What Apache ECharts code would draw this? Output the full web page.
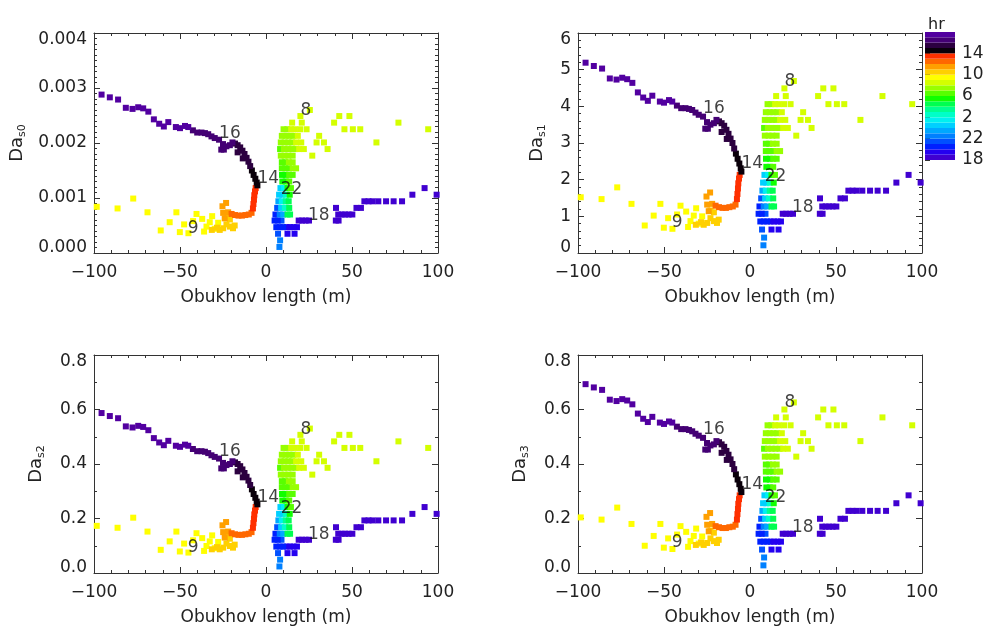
<!DOCTYPE html>
<html><head><meta charset="utf-8">
<script src="https://cdn.jsdelivr.net/npm/echarts@6/dist/echarts.min.js"></script>
<style>html,body{margin:0;padding:0;background:#fff}#c{width:990px;height:627px}</style>
</head><body><div id="c"></div>
<script>
// ---------------- DATA ----------------
const obukhovLength = [
 99.2, 92.2, 85.1, 79.1, 74.2, 69.8, 65.3, 62.0, 59.6, 57.2,
 55.2, 52.6, 50.2, 48.0, 46.0, 44.0, 42.0, 40.7, 42.2, 40.6,
 25.0, 23.0, 21.0, 19.0, 18.0, 16.0, 14.0, 12.0, 16.6, 12.5,
 10.0, 8.0, 6.0, 7.0, 8.2, 7.8, 9.0, 6.8, 5.0, 5.5,
 8.0, 6.5, 10.0, 12.5, 14.0, 8.8, 11.0, 13.5, 7.2, 9.2,
 11.5, 13.2, 7.6, 9.5, 11.5, 13.8, 8.4, 10.5, 12.5, 14.5,
 9.5, 11.5, 13.5, 9.3, 11.5, 13.5, 15.5, 9.2, 11.2, 13.3,
 15.5, 17.5, 9.2, 11.2, 13.3, 15.5, 8.6, 10.8, 13.0, 15.5,
 8.2, 10.4, 12.6, 14.8, 17.2, 19.3, 22.0, 8.6, 10.8, 13.0,
 15.2, 17.5, 20.5, 9.2, 11.4, 13.6, 15.8, 18.5, 10.2, 12.4,
 14.6, 16.6, 19.8, 23.6, 15.2, 20.8, 20.0, 25.5, 39.6, 42.6,
 48.5, 45.6, 50.5, 54.8, 77.0, 94.3, 64.2, 30.9, 29.4, 33.7,
 35.8, 26.9, -98.4, -86.3, -77.2, -68.9, -61.2, -56.0, -52.1, -50.1,
 -47.6, -45.1, -42.4, -40.4, -37.1, -36.0, -34.6, -32.7, -31.3, -29.8,
 -27.8, -26.9, -24.9, -23.0, -21.0, -19.2, -18.2, -21.0, -23.0, -31.5,
 -28.5, -24.9, -25.3, -23.2, -24.0, -22.0, -20.0, -18.0, -16.0, -14.0,
 -12.0, -10.0, -8.4, -7.6, -7.3, -7.0, -6.8, -6.4, -6.0, -5.0,
 -5.4, -6.2, -7.2, -8.2, -9.2, -10.2, -11.3, -12.5, -13.7, -15.0,
 -16.5, -18.0, -13.5, -16.5, -19.5, -21.0, -23.0, -25.0, -26.0, -24.5,
 -27.3, -29.8, -31.7, -33.6, -35.5, -37.5, -40.0, -42.5, -45.2, -47.1,
 -50.0, -52.4, -56.8, -59.4, -62.1, -65.2, -68.4, -71.4, -74.3, -77.6,
 -81.5, -86.0, -90.8, -95.6
];
const hourOfDay = [
 18,18,18,18,18,18,18,18,18,18,
 18,18,18,18,18,18,18,18,18,18,
 18,18,18,18,19,19,19,19,19,19,
 20,20,20,21,22,22,21,20,20,20,
 22,21,23,4,4,0,2,4,23,1,
 3,4,0,0,2,5,0,1,5,6,
 5,5,6,5,5,6,6,6,6,6,
 7,7,6,6,7,7,7,7,7,7,
 6,7,7,7,7,8,8,7,7,7,
 7,8,8,7,7,7,7,8,7,7,
 8,8,8,8,8,8,8,8,8,8,
 8,8,8,8,8,8,8,8,8,8,
 8,8,9,9,9,9,9,9,9,9,
 9,9,9,9,9,9,9,9,9,9,
 9,10,10,10,10,10,10,10,10,10,
 10,11,11,11,11,11,12,12,12,12,
 12,12,12,13,13,13,13,13,13,14,
 14,14,14,14,15,15,15,15,15,15,
 15,15,15,15,16,16,16,16,16,16,
 16,16,16,16,16,16,16,16,17,17,
 17,17,17,17,17,17,17,17,17,17,
 17,17,17,17
];
const daS0 = [
 0.00106,0.00118,0.00106,0.00094,0.00094,0.00094,0.00094,0.00094,0.00094,0.00094,
 0.00082,0.00082,0.00070,0.00070,0.00070,0.00070,0.00070,0.00082,0.00059,0.00059,
 0.00059,0.00059,0.00059,0.00059,0.00047,0.00047,0.00047,0.00047,0.00035,0.00035,
 0.00047,0.00047,0.00047,0.00035,0.00023,0.00011,0.00059,0.00059,0.00059,0.00070,
 0.00070,0.00082,0.00070,0.00070,0.00070,0.00082,0.00082,0.00082,0.00094,0.00094,
 0.00094,0.00094,0.00106,0.00106,0.00106,0.00106,0.00118,0.00118,0.00118,0.00118,
 0.00130,0.00130,0.00130,0.00142,0.00142,0.00142,0.00142,0.00154,0.00154,0.00154,
 0.00154,0.00154,0.00165,0.00165,0.00165,0.00165,0.00177,0.00177,0.00177,0.00177,
 0.00189,0.00189,0.00189,0.00189,0.00189,0.00189,0.00189,0.00201,0.00201,0.00201,
 0.00201,0.00201,0.00201,0.00213,0.00213,0.00213,0.00213,0.00213,0.00225,0.00225,
 0.00225,0.00225,0.00225,0.00225,0.00237,0.00237,0.00249,0.00260,0.00237,0.00249,
 0.00249,0.00225,0.00225,0.00225,0.00237,0.00225,0.00201,0.00213,0.00201,0.00201,
 0.00189,0.00177,0.00084,0.00081,0.00099,0.00074,0.00041,0.00056,0.00074,0.00038,
 0.00052,0.00036,0.00058,0.00071,0.00062,0.00039,0.00048,0.00056,0.00067,0.00044,
 0.00055,0.00042,0.00045,0.00052,0.00048,0.00045,0.00050,0.00061,0.00064,0.00042,
 0.00046,0.00073,0.00085,0.00091,0.00063,0.00074,0.00071,0.00069,0.00068,0.00068,
 0.00069,0.00070,0.00073,0.00081,0.00089,0.00097,0.00105,0.00112,0.00118,0.00123,
 0.00128,0.00135,0.00142,0.00150,0.00158,0.00166,0.00173,0.00180,0.00186,0.00192,
 0.00196,0.00199,0.00172,0.00183,0.00201,0.00196,0.00194,0.00198,0.00188,0.00188,
 0.00206,0.00209,0.00212,0.00216,0.00218,0.00219,0.00219,0.00223,0.00229,0.00231,
 0.00227,0.00229,0.00238,0.00230,0.00235,0.00243,0.00257,0.00263,0.00265,0.00262,
 0.00264,0.00279,0.00283,0.00288
];
const daS1 = [
 1.92,2.13,1.92,1.70,1.70,1.70,1.70,1.70,1.70,1.70,
 1.49,1.49,1.27,1.27,1.27,1.27,1.27,1.49,1.07,1.07,
 1.07,1.07,1.07,1.07,0.86,0.86,0.86,0.86,0.64,0.64,
 0.86,0.86,0.86,0.64,0.42,0.21,1.07,1.07,1.07,1.27,
 1.27,1.49,1.27,1.27,1.27,1.49,1.49,1.49,1.70,1.70,
 1.70,1.70,1.92,1.92,1.92,1.92,2.13,2.13,2.13,2.13,
 2.35,2.35,2.35,2.57,2.57,2.57,2.57,2.78,2.78,2.78,
 2.78,2.78,2.98,2.98,2.98,2.98,3.20,3.20,3.20,3.20,
 3.41,3.41,3.41,3.41,3.41,3.41,3.41,3.63,3.63,3.63,
 3.63,3.63,3.63,3.84,3.84,3.84,3.84,3.84,4.06,4.06,
 4.06,4.06,4.06,4.06,4.28,4.28,4.49,4.69,4.28,4.49,
 4.49,4.06,4.06,4.06,4.28,4.06,3.63,3.84,3.63,3.63,
 3.41,3.20,1.52,1.47,1.79,1.34,0.75,1.02,1.34,0.69,
 0.95,0.66,1.05,1.29,1.13,0.71,0.87,1.02,1.22,0.80,
 1.00,0.77,0.82,0.95,0.87,0.82,0.91,1.11,1.16,0.77,
 0.84,1.32,1.54,1.65,1.14,1.34,1.29,1.25,1.23,1.23,
 1.25,1.27,1.32,1.47,1.61,1.76,1.90,2.03,2.13,2.22,
 2.31,2.44,2.57,2.71,2.85,3.00,3.12,3.25,3.36,3.47,
 3.54,3.59,3.11,3.30,3.63,3.54,3.50,3.57,3.39,3.39,
 3.72,3.77,3.83,3.90,3.93,3.95,3.95,4.02,4.13,4.17,
 4.10,4.13,4.29,4.15,4.24,4.38,4.64,4.74,4.78,4.73,
 4.76,5.03,5.10,5.19
];
const daS2 = [
 0.217,0.242,0.217,0.193,0.193,0.193,0.193,0.193,0.193,0.193,
 0.168,0.168,0.144,0.144,0.144,0.144,0.144,0.168,0.122,0.122,
 0.122,0.122,0.122,0.122,0.097,0.097,0.097,0.097,0.073,0.073,
 0.097,0.097,0.097,0.073,0.049,0.024,0.122,0.122,0.122,0.144,
 0.144,0.168,0.144,0.144,0.144,0.168,0.168,0.168,0.193,0.193,
 0.193,0.193,0.217,0.217,0.217,0.217,0.242,0.242,0.242,0.242,
 0.266,0.266,0.266,0.290,0.290,0.290,0.290,0.315,0.315,0.315,
 0.315,0.315,0.337,0.337,0.337,0.337,0.361,0.361,0.361,0.361,
 0.386,0.386,0.386,0.386,0.386,0.386,0.386,0.410,0.410,0.410,
 0.410,0.410,0.410,0.434,0.434,0.434,0.434,0.434,0.459,0.459,
 0.459,0.459,0.459,0.459,0.483,0.483,0.507,0.530,0.483,0.507,
 0.507,0.459,0.459,0.459,0.483,0.459,0.410,0.434,0.410,0.410,
 0.386,0.361,0.173,0.166,0.203,0.152,0.085,0.116,0.152,0.079,
 0.108,0.075,0.120,0.146,0.128,0.081,0.099,0.116,0.138,0.091,
 0.114,0.087,0.093,0.108,0.099,0.093,0.104,0.126,0.132,0.087,
 0.095,0.150,0.175,0.187,0.130,0.152,0.146,0.142,0.140,0.140,
 0.142,0.144,0.150,0.166,0.183,0.199,0.215,0.229,0.242,0.252,
 0.262,0.276,0.290,0.307,0.323,0.339,0.353,0.367,0.380,0.392,
 0.400,0.406,0.351,0.373,0.410,0.400,0.396,0.404,0.384,0.384,
 0.420,0.426,0.432,0.440,0.445,0.447,0.447,0.455,0.467,0.471,
 0.463,0.467,0.485,0.469,0.479,0.495,0.524,0.536,0.540,0.534,
 0.538,0.568,0.576,0.587
];
const daS3 = [
 0.256,0.285,0.256,0.228,0.228,0.228,0.228,0.228,0.228,0.228,
 0.199,0.199,0.170,0.170,0.170,0.170,0.170,0.199,0.144,0.144,
 0.144,0.144,0.144,0.144,0.115,0.115,0.115,0.115,0.086,0.086,
 0.115,0.115,0.115,0.086,0.057,0.028,0.144,0.144,0.144,0.170,
 0.170,0.199,0.170,0.170,0.170,0.199,0.199,0.199,0.228,0.228,
 0.228,0.228,0.256,0.256,0.256,0.256,0.285,0.285,0.285,0.285,
 0.314,0.314,0.314,0.343,0.343,0.343,0.343,0.372,0.372,0.372,
 0.372,0.372,0.398,0.398,0.398,0.398,0.427,0.427,0.427,0.427,
 0.456,0.456,0.456,0.456,0.456,0.456,0.456,0.484,0.484,0.484,
 0.484,0.484,0.484,0.513,0.513,0.513,0.513,0.513,0.542,0.542,
 0.542,0.542,0.542,0.542,0.571,0.571,0.600,0.626,0.571,0.600,
 0.600,0.542,0.542,0.542,0.571,0.542,0.484,0.513,0.484,0.484,
 0.456,0.427,0.204,0.196,0.240,0.180,0.100,0.136,0.180,0.093,
 0.127,0.088,0.141,0.172,0.151,0.096,0.117,0.136,0.163,0.108,
 0.134,0.103,0.110,0.127,0.117,0.110,0.122,0.148,0.156,0.103,
 0.112,0.177,0.206,0.220,0.153,0.180,0.172,0.168,0.165,0.165,
 0.168,0.170,0.177,0.196,0.216,0.235,0.254,0.271,0.285,0.297,
 0.309,0.326,0.343,0.362,0.381,0.400,0.417,0.434,0.448,0.463,
 0.472,0.480,0.415,0.441,0.484,0.472,0.468,0.477,0.453,0.453,
 0.496,0.504,0.511,0.520,0.525,0.528,0.528,0.537,0.552,0.556,
 0.547,0.552,0.573,0.554,0.566,0.585,0.619,0.633,0.638,0.631,
 0.636,0.672,0.681,0.693
];
// hour annotations
const hourLabels = ['8', '16', '14', '22', '18', '9'];
const hourLabelL = [23.2, -21.0, 1.3, 14.8, 30.7, -42.4];
const hourLabelS0 = [0.00259, 0.00218, 0.00135, 0.00115, 0.00068, 0.00045];
const hourLabelS1 = [4.67, 3.93, 2.44, 2.08, 1.23, 0.82];
const hourLabelS2 = [0.528, 0.445, 0.276, 0.235, 0.140, 0.093];
const hourLabelS3 = [0.624, 0.525, 0.326, 0.278, 0.165, 0.110];
// colour bar
const colorbarHours = [18,19,20,21,22,23,0,1,2,3,4,5,6,7,8,9,10,11,12,13,14,15,16,17];
const colorbarTickLabels = ['18', '22', '2', '6', '10', '14'];

// ---------------- STYLE ----------------
const hourColors = ['#00d0ff','#00f0f0','#00ffc8','#00ff90','#00ff50','#10ff00','#58ff00','#98ff00',
  '#d4ff00','#ffff00','#ffd000','#ffa000','#ff6800','#ff3000','#0a000a','#2c0040','#440074','#5200a0',
  '#4000d0','#2400f0','#0020ff','#0050ff','#0080ff','#00a8ff'];
const FONT = 'DejaVu Sans';
const TXT = '#222';
const AX = '#333';

const panels = [
  {left: 94, top: 33, height: 220, ys: daS0, ly: hourLabelS0, max: 0.004, interval: 0.001, minor: 10, dec: 3, sub: 's0', gap: 66},
  {left: 578, top: 33, height: 220, ys: daS1, ly: hourLabelS1, max: 6, interval: 1, minor: 5, dec: 0, sub: 's1', gap: 30},
  {left: 94, top: 355, height: 221, ys: daS2, ly: hourLabelS2, max: 0.8, interval: 0.2, minor: 2, dec: 1, sub: 's2', gap: 47},
  {left: 578, top: 355, height: 221, ys: daS3, ly: hourLabelS3, max: 0.8, interval: 0.2, minor: 2, dec: 1, sub: 's3', gap: 47}
];

const grid = [], xAxis = [], yAxis = [], series = [];
const lblStyle = {fontFamily: FONT, fontSize: 17, color: TXT};

panels.forEach((p, i) => {
  grid.push({left: p.left, top: p.top, width: 344, height: p.height});
  const xBase = {
    gridIndex: i, type: 'value', min: -100, max: 100, interval: 50,
    axisLine: {show: true, onZero: false, lineStyle: {color: AX, width: 1}},
    axisTick: {show: true, inside: true, length: 6, lineStyle: {color: AX}},
    minorTick: {show: true, splitNumber: 5, length: 3, lineStyle: {color: AX}},
    splitLine: {show: false}, minorSplitLine: {show: false}
  };
  xAxis.push(Object.assign({}, xBase, {
    position: 'bottom',
    axisLabel: Object.assign({margin: 11, formatter: v => String(v).replace('-', '\u2212')}, lblStyle),
    name: 'Obukhov length (m)', nameLocation: 'middle', nameGap: 36,
    nameTextStyle: Object.assign({}, lblStyle)
  }));
  xAxis.push(Object.assign({}, xBase, {position: 'top', axisLabel: {show: false}}));
  const yBase = {
    gridIndex: i, type: 'value', min: 0, max: p.max, interval: p.interval,
    axisLine: {show: true, onZero: false, lineStyle: {color: AX, width: 1}},
    axisTick: {show: true, inside: true, length: 6, lineStyle: {color: AX}},
    minorTick: {show: true, splitNumber: p.minor, length: 3, lineStyle: {color: AX}},
    splitLine: {show: false}, minorSplitLine: {show: false}
  };
  const maxV = p.max;
  yAxis.push(Object.assign({}, yBase, {
    position: 'left',
    axisLabel: Object.assign({
      margin: 7,
      formatter: v => {
        const s = v.toFixed(p.dec);
        if (Math.abs(v - maxV) < 1e-9) return '{t|' + s + '}';
        if (Math.abs(v) < 1e-12) return '{b|' + s + '}';
        return s;
      },
      rich: {
        t: {fontFamily: FONT, fontSize: 17, color: TXT, padding: [14, 0, 0, 0]},
        b: {fontFamily: FONT, fontSize: 17, color: TXT, padding: [0, 0, 10, 0]}
      }
    }, lblStyle),
    name: '{a|Da}{b|' + p.sub + '}', nameLocation: 'middle', nameGap: p.gap, nameRotate: 90,
    nameTextStyle: {
      fontFamily: FONT, color: TXT,
      rich: {
        a: {fontFamily: FONT, fontSize: 18, color: TXT, lineHeight: 20, verticalAlign: 'top'},
        b: {fontFamily: FONT, fontSize: 11, color: TXT, lineHeight: 12, verticalAlign: 'bottom'}
      }
    }
  }));
  yAxis.push(Object.assign({}, yBase, {position: 'right', axisLabel: {show: false}}));

  series.push({
    type: 'scatter', xAxisIndex: 2 * i, yAxisIndex: 2 * i,
    symbol: 'rect', symbolSize: 6, silent: true,
    data: obukhovLength.map((x, k) => [x, p.ys[k], hourOfDay[k]]),
    itemStyle: {opacity: 1, color: prm => hourColors[prm.data[2]]}
  });
  series.push({
    type: 'scatter', xAxisIndex: 2 * i, yAxisIndex: 2 * i,
    symbolSize: 0, silent: true, z: 5,
    data: hourLabels.map((t, k) => ({name: t, value: [hourLabelL[k], p.ly[k]]})),
    label: {show: true, position: 'inside', formatter: '{b}', fontFamily: FONT, fontSize: 17, color: '#111'}
  });
});

// colour bar
grid.push({left: 925, top: 32, width: 30, height: 128});
xAxis.push({gridIndex: 4, type: 'value', min: 0, max: 1, show: false});
yAxis.push({
  gridIndex: 4, type: 'value', min: 0, max: 24, interval: 4, position: 'right',
  axisLine: {show: false},
  axisTick: {show: true, inside: false, length: 5, lineStyle: {color: AX}, customValues: [0, 4, 8, 12, 16, 20]},
  axisLabel: Object.assign({margin: 7, customValues: [0, 4, 8, 12, 16, 20],
    formatter: v => colorbarTickLabels[Math.round(v / 4)] || ''}, lblStyle),
  splitLine: {show: false}
});
series.push({
  type: 'custom', xAxisIndex: 8, yAxisIndex: 8, silent: true,
  data: colorbarHours.map((h, i) => [i, h]),
  encode: {x: -1, y: 0},
  renderItem: (params, api) => {
    const i = api.value(0);
    const p0 = api.coord([0, i]);
    const p1 = api.coord([1, i + 1]);
    return {type: 'rect', shape: {x: p0[0], y: p1[1], width: p1[0] - p0[0], height: p0[1] - p1[1]},
      style: {fill: hourColors[api.value(1)]}};
  }
});

const chart = echarts.init(document.getElementById('c'), null, {renderer: 'canvas'});
chart.setOption({
  animation: false,
  backgroundColor: '#fff',
  title: {text: 'hr', left: 923, top: 12, textStyle: {fontFamily: FONT, fontSize: 16, fontWeight: 'normal', color: TXT}},
  grid, xAxis, yAxis, series
});
</script>
</body></html>
